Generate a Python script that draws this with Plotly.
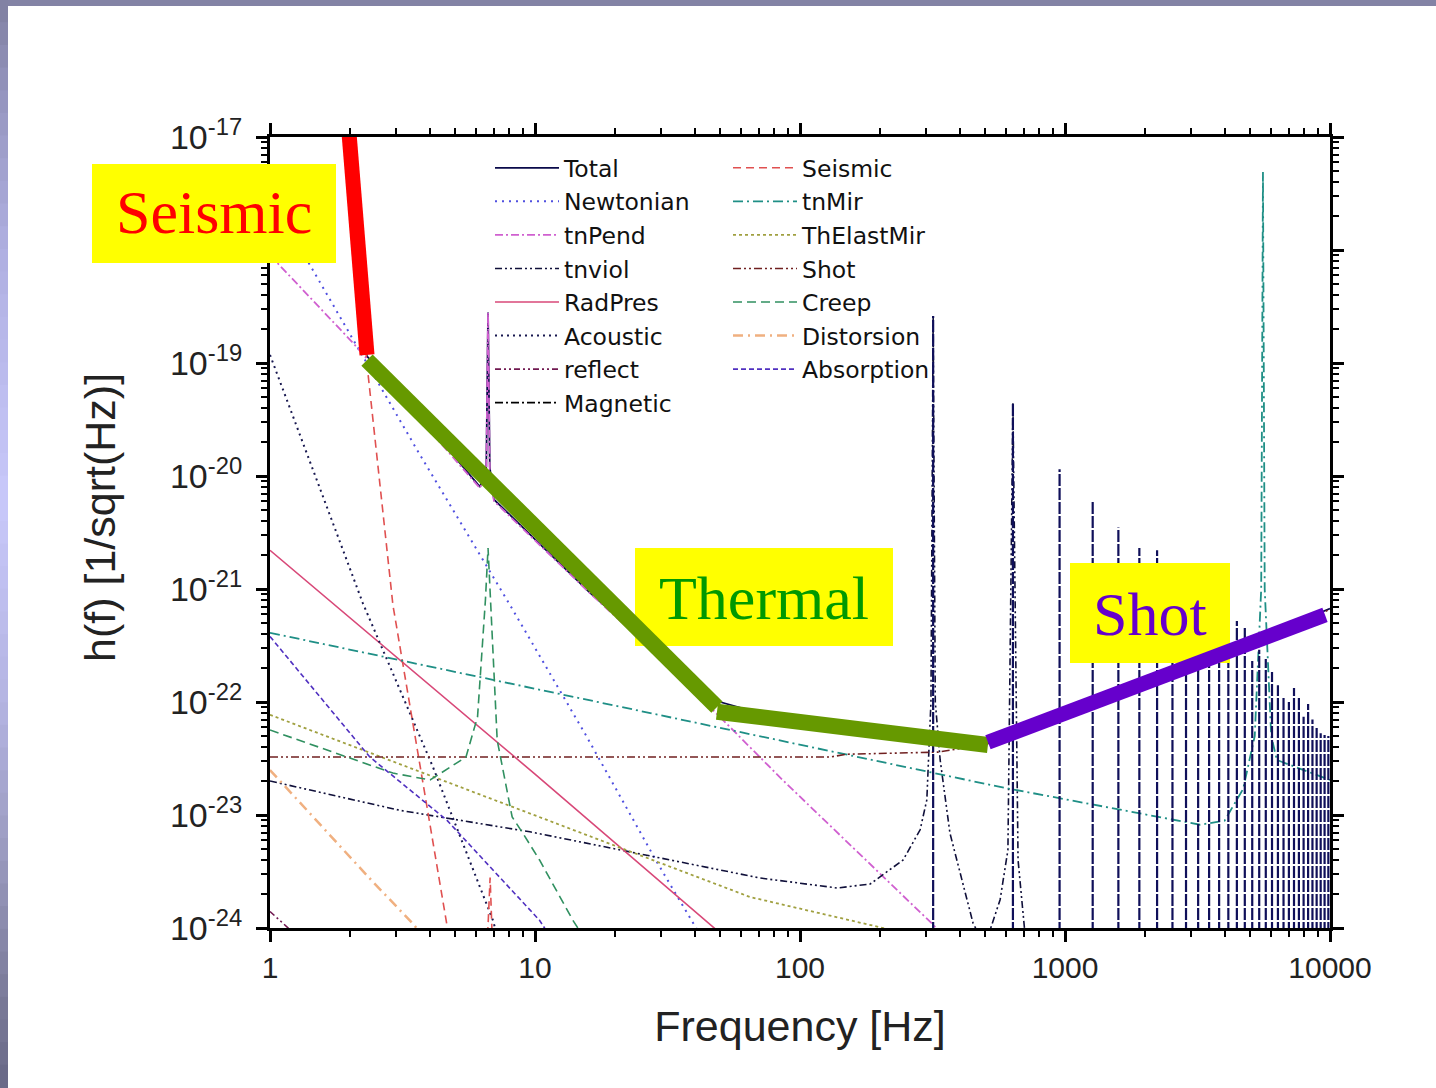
import plotly.graph_objects as go

# ---------------- data (Hz, 1/sqrt(Hz)) ----------------
total_f = [1.95, 2.0, 2.32, 2.91, 4.0, 6.2, 6.55, 6.65, 6.75, 7.0, 16.1, 31, 50, 100, 200, 300, 400, 512, 1000, 2000, 5000, 10000]
total_h = [2e-17, 1.0e-17, 1.15e-19, 6.5e-20, 2.7e-20, 8.0e-21, 1.2e-20, 2.8e-19, 1.2e-20, 6.2e-21, 9.3e-22, 2.4e-22, 1.0e-22, 6.3e-23, 5.4e-23, 4.9e-23, 4.6e-23, 4.4e-23, 8.0e-23, 1.4e-22, 3.4e-22, 6.7e-22]

newtonian_f = [1, 1.416, 3.59, 8.26, 15.7, 28.9, 42]
newtonian_h = [3.0e-18, 7.4e-19, 1.7e-20, 6.5e-22, 4.9e-23, 3.8e-24, 8.7e-25]

tnpend_f = [1, 2.06, 6.2, 6.55, 6.65, 6.75, 7.0, 16.1, 31, 86, 318, 420]
tnpend_h = [9.0e-19, 1.5e-19, 7.8e-21, 1.1e-20, 2.8e-19, 1.1e-20, 6.0e-21, 9.2e-22, 2.26e-22, 2.04e-23, 1.07e-24, 5e-25]

tnviol_f = [1, 3.09, 9.57, 29.6, 70.6, 138, 184, 245, 284, 301, 312, 318, 324, 338, 368, 450, 499, 569, 609, 636, 665, 706]
tnviol_h = [2.0e-23, 1.1e-23, 7.1e-24, 4.2e-24, 2.77e-24, 2.26e-24, 2.45e-24, 4.0e-24, 7.4e-24, 1.36e-23, 1.0e-22, 2.6e-19, 1.0e-22, 3.07e-23, 6.9e-24, 1.1e-24, 7e-25, 1.78e-24, 4.9e-24, 4.4e-20, 4.0e-24, 9e-25]

# violin-mode resonance lines (harmonics) and their peak heights
viol_f = [318, 636, 954, 1272, 1590, 1908, 2226, 2544, 2862, 3180, 3498, 3816, 4134, 4452, 4770,
          5088, 5406, 5724, 6042, 6360, 6678, 6996, 7314, 7632, 7950, 8268, 8586, 8904, 9222, 9540, 9858]
viol_peak = [2.6e-19, 4.4e-20, 1.15e-20, 5.9e-21, 3.5e-21, 2.3e-21, 2.2e-21, 1.5e-21, 1.2e-21, 9.8e-22, 8.0e-22,
             6.3e-22, 4.7e-22, 5.2e-22, 4.7e-22, 2.3e-22, 2.9e-22, 2.4e-22, 1.84e-22, 1.41e-22, 1.13e-22,
             1.0e-22, 1.33e-22, 1.13e-22, 7.4e-23, 9.6e-23, 7.0e-23, 5.9e-23, 5.3e-23, 5.1e-23, 5.0e-23]
viol_floor = 5e-25

radpres_f = [1, 10, 50, 60]
radpres_h = [2.2e-21, 2.3e-23, 9e-25, 6e-25]

acoustic_f = [1, 2.24, 4.12, 6.94, 7.5]
acoustic_h = [1.18e-19, 7.5e-22, 2.66e-23, 1.17e-24, 6e-25]

reflect_f = [1, 1.3]
reflect_h = [1.4e-24, 8e-25]

magnetic_f = [None]
magnetic_h = [None]

seismic_f = [1.95, 2.0, 2.32, 2.91, 4.65, 5.2, None, 6.5, 6.77, 7.0]
seismic_h = [2e-17, 1.0e-17, 1.0e-19, 7.2e-22, 1.07e-24, 3e-25, None, 3e-25, 2.8e-24, 3e-25]

tnmir_f = [1, 29.6, 569, 3230, 4000, 4700, 5200, 5500, 5585, 5670, 6000, 6300, 10000]
tnmir_h = [4.1e-22, 7.7e-23, 1.77e-23, 8.2e-24, 8.9e-24, 1.7e-23, 5e-23, 1e-21, 4.9e-18, 1e-21, 5e-23, 3.07e-23, 2.04e-23]

thelast_f = [1, 29.6, 64.8, 206, 260]
thelast_h = [7.7e-23, 3.76e-24, 1.88e-24, 1.0e-24, 8e-25]

shot_f = [1, 130, 150, 330, 500, 1000, 2000, 5000, 10000]
shot_h = [3.26e-23, 3.26e-23, 3.45e-23, 3.6e-23, 4.2e-23, 7.4e-23, 1.35e-22, 3.3e-22, 6.6e-22]

creep_f = [1, 2.91, 4.02, 5.49, 6.07, 6.5, 6.65, 6.8, 7.2, 8.2, 9.0, 10.4, 13.9, 16]
creep_h = [5.65e-23, 2.35e-23, 2.04e-23, 3.26e-23, 7.4e-23, 8.0e-22, 2.3e-21, 8.0e-22, 4.6e-23, 9.6e-24, 6.9e-24, 4.0e-24, 1.17e-24, 7e-25]

distorsion_f = [1, 2.43, 3.49, 4.0]
distorsion_h = [2.5e-23, 2.6e-24, 1.07e-24, 7e-25]

absorption_f = [1, 2.38, 4.65, 10.4, 12]
absorption_h = [3.8e-22, 3.26e-23, 9.0e-24, 1.17e-24, 7e-25]

# hand-drawn highlight strokes of the slide
hl_seismic_f = [1.987, 2.323]
hl_seismic_h = [1.08e-17, 1.18e-19]
hl_thermal1_f = [2.323, 48.6]
hl_thermal1_h = [1.06e-19, 9.0e-23]
hl_thermal2_f = [48.6, 512]
hl_thermal2_h = [8.2e-23, 4.16e-23]
hl_shot_f = [512, 9575]
hl_shot_h = [4.4e-23, 5.9e-22]

x_tickvals = [1, 10, 100, 1000, 10000]
x_ticktext = ["1", "10", "100", "1000", "10000"]
y_exponents = [-24, -23, -22, -21, -20, -19, -18, -17]

# ---------------- layout geometry ----------------
W, H = 1436, 1088
L, R, T, B = 270, 1330, 137, 928


def px(xp):
    return (xp - L) / (R - L)


def py(yp):
    return (B - yp) / (B - T)


FONT = "Liberation Sans, Arial, sans-serif"
LEGFONT = "DejaVu Sans, sans-serif"

fig = go.Figure()


def add(name, f, h, color, dash, width=1.6, legend="legend", show=True):
    fig.add_trace(go.Scatter(
        x=f, y=h, mode="lines", name=name, legend=legend, legendgroup=name,
        showlegend=show, connectgaps=False,
        line=dict(color=color, dash=dash, width=width), hoverinfo="skip"))


add("Total", total_f, total_h, "#0a0a4a", "solid", 1.8)
add("Newtonian", newtonian_f, newtonian_h, "#5050e0", "2px,5px", 2)
add("tnPend", tnpend_f, tnpend_h, "#d060d0", "8px,3px,2px,3px", 1.8)
add("tnviol", tnviol_f, tnviol_h, "#10103a", "7px,3px,2px,3px,2px,3px", 1.6)
add("RadPres", radpres_f, radpres_h, "#d84878", "solid", 1.6)
add("Acoustic", acoustic_f, acoustic_h, "#181850", "2px,4px", 2)
add("reflect", reflect_f, reflect_h, "#701850", "6px,3px,2px,3px,2px,3px", 1.6)
add("Magnetic", magnetic_f, magnetic_h, "#000000", "8px,3px,2px,3px", 1.6)
add("Seismic", seismic_f, seismic_h, "#e05050", "8px,5px", 1.6, "legend2")
add("tnMir", tnmir_f, tnmir_h, "#1f8f86", "10px,4px,2px,4px", 1.8, "legend2")
add("ThElastMir", thelast_f, thelast_h, "#a0a040", "3px,3px", 1.8, "legend2")
add("Shot", shot_f, shot_h, "#702020", "8px,3px,2px,3px,2px,3px", 1.6, "legend2")
add("Creep", creep_f, creep_h, "#309060", "9px,5px", 1.6, "legend2")
add("Distorsion", distorsion_f, distorsion_h, "#f0b080", "10px,5px,2px,5px", 2.5, "legend2")
add("Absorption", absorption_f, absorption_h, "#5030c0", "5px,3px", 1.6, "legend2")

# violin resonance lines (part of tnviol)
sx, sy = [], []
for f, p in zip(viol_f, viol_peak):
    sx += [f, f, None]
    sy += [viol_floor, p, None]
fig.add_trace(go.Scatter(x=sx, y=sy, mode="lines", legendgroup="tnviol", showlegend=False,
                         line=dict(color="#10105a", width=2.2, dash="12px,2px"), hoverinfo="skip"))

# ---------------- slide decorations ----------------
shapes = []
# top band
shapes.append(dict(type="rect", xref="paper", yref="paper", layer="below",
                   x0=px(0), x1=px(W), y0=py(6), y1=py(-2), line=dict(width=0), fillcolor="#8383a5"))
# left gradient band
stops = [(0, (128, 128, 160)), (100, (150, 150, 192)), (250, (175, 175, 225)), (500, (200, 200, 250)),
         (700, (180, 180, 226)), (850, (155, 155, 192)), (1000, (122, 122, 152)), (1088, (104, 104, 134))]
nb = 48
for i in range(nb):
    y0 = i * H / nb
    y1 = (i + 1) * H / nb
    ym = (y0 + y1) / 2
    for (a, ca), (b, cb) in zip(stops[:-1], stops[1:]):
        if a <= ym <= b:
            t = (ym - a) / (b - a)
            c = tuple(int(round(ca[k] + t * (cb[k] - ca[k]))) for k in range(3))
            break
    shapes.append(dict(type="rect", xref="paper", yref="paper", layer="below",
                       x0=px(-2), x1=px(8), y0=py(y1 + 0.5), y1=py(y0 - 0.5),
                       line=dict(width=0), fillcolor="rgb(%d,%d,%d)" % c))

# yellow label boxes (above the curves)
boxes = [(92, 336, 164, 263), (635, 893, 548, 646), (1070, 1230, 563, 663)]
for x0, x1, y0, y1 in boxes:
    shapes.append(dict(type="rect", xref="paper", yref="paper", layer="above",
                       x0=px(x0), x1=px(x1), y0=py(y1), y1=py(y0),
                       line=dict(width=0), fillcolor="#ffff00"))

# highlight strokes (data coordinates)
for fx, hy, col, wd in [(hl_seismic_f, hl_seismic_h, "#ff0000", 15),
                        (hl_thermal1_f, hl_thermal1_h, "#669900", 16),
                        (hl_thermal2_f, hl_thermal2_h, "#669900", 16),
                        (hl_shot_f, hl_shot_h, "#6600cc", 15)]:
    shapes.append(dict(type="line", xref="x", yref="y", layer="above",
                       x0=fx[0], x1=fx[1], y0=hy[0], y1=hy[1],
                       line=dict(color=col, width=wd)))

annotations = []
for text, cx, cy, col in [("Seismic", 214, 212, "#ff0000"), ("Thermal", 764, 598, "#009900"),
                          ("Shot", 1150, 614, "#6600cc")]:
    annotations.append(dict(text=text, xref="paper", yref="paper", x=px(cx), y=py(cy),
                            xanchor="center", yanchor="middle", showarrow=False,
                            font=dict(family="Liberation Serif, Times New Roman, serif", size=62, color=col)))
# y axis title
annotations.append(dict(text="h(f) [1/sqrt(Hz)]", xref="paper", yref="paper", x=px(100), y=py(518),
                        xanchor="center", yanchor="middle", showarrow=False, textangle=-90,
                        font=dict(family=FONT, size=43, color="#222")))

axis_common = dict(showline=True, linecolor="black", linewidth=3, mirror="allticks",
                   ticks="outside", ticklen=11, tickwidth=2.5, tickcolor="black",
                   showgrid=False, zeroline=False,
                   minor=dict(dtick="D1", ticks="outside", ticklen=6, tickwidth=2, tickcolor="black", showgrid=False))

legend_common = dict(xanchor="left", yanchor="top", bgcolor="rgba(0,0,0,0)",
                     font=dict(family=LEGFONT, size=23.5, color="#111"), itemwidth=64,
                     tracegroupgap=0, traceorder="normal")

fig.update_layout(
    width=W, height=H,
    margin=dict(l=L, r=W - R, t=T, b=H - B, pad=0),
    paper_bgcolor="white", plot_bgcolor="white",
    xaxis=dict(type="log", range=[0, 4], tickmode="array", tickvals=x_tickvals, ticktext=x_ticktext,
               tickfont=dict(family=FONT, size=30, color="#222"),
               title=dict(text="Frequency [Hz]", font=dict(family=FONT, size=43, color="#222"), standoff=28),
               **axis_common),
    yaxis=dict(type="log", range=[-24, -17], tickmode="array",
               tickvals=[10.0 ** e for e in y_exponents],
               ticktext=["10<sup>%d</sup>" % e for e in y_exponents],
               tickfont=dict(family=FONT, size=34, color="#222"), ticklabelstandoff=7,
               **axis_common),
    legend=dict(x=px(490), y=py(146), **legend_common),
    legend2=dict(x=px(728), y=py(146), **legend_common),
    shapes=shapes,
    annotations=annotations,
    showlegend=True,
)

fig.write_html("out.html", config={"displayModeBar": False})
